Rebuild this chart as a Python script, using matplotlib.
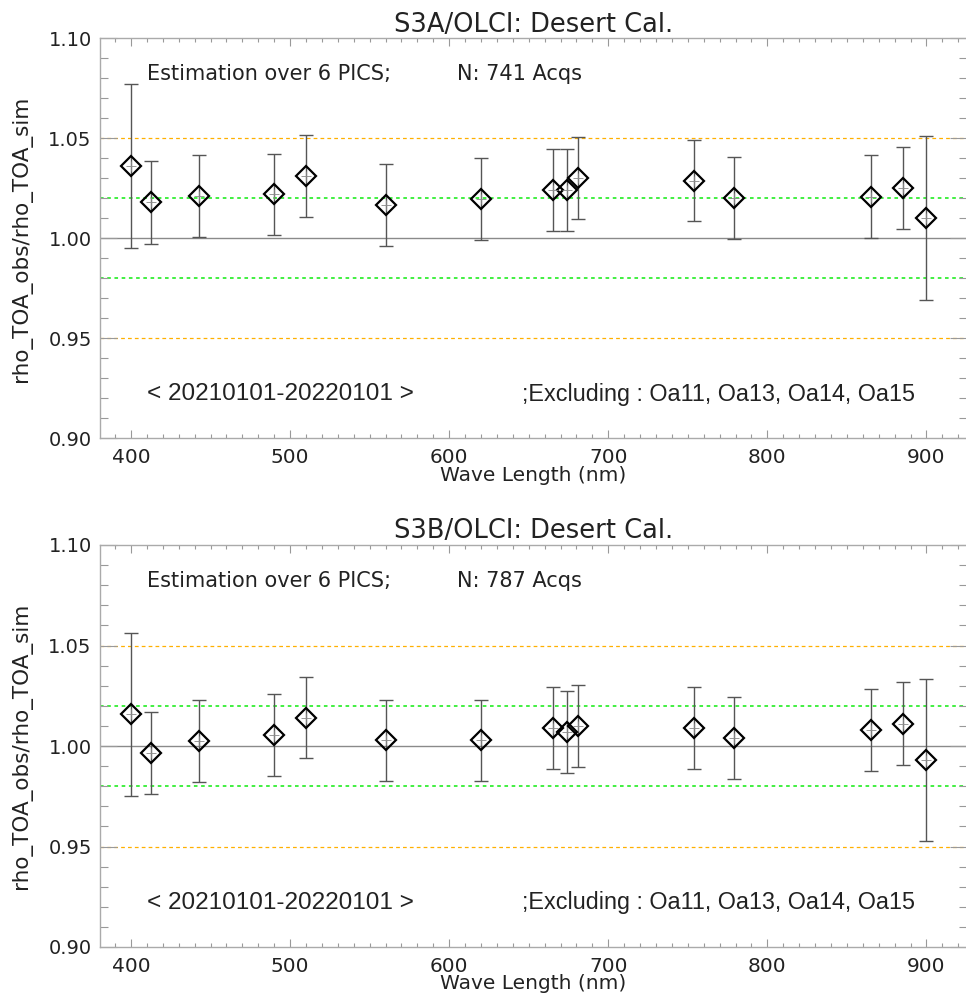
import matplotlib
matplotlib.use("Agg")
import matplotlib.pyplot as plt
from matplotlib.ticker import MultipleLocator, FixedLocator

# ---- data ----
wavelengths = [400.0, 412.5, 442.5, 490.0, 510.0, 560.0, 620.0, 665.0, 673.75,
               681.25, 753.75, 778.75, 865.0, 885.0, 900.0]

s3a_ratio = [1.0363, 1.0182, 1.0212, 1.0220, 1.0312, 1.0167, 1.0197, 1.0242,
             1.0242, 1.0302, 1.0288, 1.0203, 1.0210, 1.0253, 1.0102]
s3a_err = [0.0411, 0.0207, 0.0207, 0.0205, 0.0205, 0.0205, 0.0205, 0.0205,
           0.0205, 0.0204, 0.0203, 0.0204, 0.0206, 0.0205, 0.0410]

s3b_ratio = [1.0157, 0.9964, 1.0025, 1.0055, 1.0141, 1.0028, 1.0028, 1.0089,
             1.0070, 1.0099, 1.0089, 1.0040, 1.0081, 1.0111, 0.9932]
s3b_err = [0.0407, 0.0204, 0.0203, 0.0203, 0.0203, 0.0203, 0.0203, 0.0203,
           0.0205, 0.0203, 0.0203, 0.0204, 0.0204, 0.0205, 0.0403]

titles = ["S3A/OLCI: Desert Cal.", "S3B/OLCI: Desert Cal."]
n_acqs = [741, 787]
period_label = "< 20210101-20220101 >"
exclude_label = ";Excluding : Oa11, Oa13, Oa14, Oa15"
ref_lines_orange = [1.05, 0.95]
ref_lines_green = [1.02, 0.98]
ref_line_unity = 1.00
xticks = [400, 500, 600, 700, 800, 900]
yticks = [0.90, 0.95, 1.00, 1.05, 1.10]

W, H = 966, 999
fig = plt.figure(figsize=(W / 100, H / 100), dpi=100)

wide_font = ["DejaVu Sans"]
narrow_font = ["Liberation Sans", "DejaVu Sans"]

def px_rect(left, top, right, bottom):
    return [left / W, 1 - bottom / H, (right - left) / W, (bottom - top) / H]

rects = [px_rect(100, 38.5, 967, 438.5), px_rect(100, 545, 967, 947)]
datasets = [(s3a_ratio, s3a_err), (s3b_ratio, s3b_err)]

for i, ax_rect in enumerate(rects):
    ax = fig.add_axes(ax_rect)
    ratio, err = datasets[i]
    ax.set_xlim(380.5, 925.5)
    ax.set_ylim(0.90, 1.10)

    for y in ref_lines_orange:
        ax.axhline(y, color="#FFB000", ls=(0, (3, 2.5)), lw=0.9, zorder=1)
    for y in ref_lines_green:
        ax.axhline(y, color="#33EE33", ls=(0, (2, 2)), lw=1.3, zorder=1)
    ax.axhline(ref_line_unity, color="#8a8a8a", lw=1.0, zorder=1)

    ax.errorbar(wavelengths, ratio, yerr=err, fmt="none", ecolor="#555555",
                elinewidth=1.0, capsize=5, capthick=1.0, zorder=2)
    ax.plot(wavelengths, ratio, ls="none", marker="D", ms=10, mfc="none",
            mec="black", mew=1.6, zorder=3)
    ax.plot(wavelengths, ratio, ls="none", marker="+", ms=7, mec="#888888",
            mew=0.6, zorder=4)

    ax.xaxis.set_major_locator(FixedLocator(xticks))
    ax.xaxis.set_minor_locator(MultipleLocator(10))
    ax.yaxis.set_major_locator(FixedLocator(yticks))
    ax.yaxis.set_minor_locator(MultipleLocator(0.01))
    ax.set_yticklabels([f"{v:.2f}" for v in yticks], fontsize=14,
                       family=wide_font, color="#222222")
    ax.set_xticklabels([str(v) for v in xticks], fontsize=14.5,
                       family=wide_font, color="#222222")

    ax.tick_params(axis="x", which="major", direction="in", length=6, width=0.8,
                   color="#999999", top=True, bottom=True, pad=7)
    ax.tick_params(axis="x", which="minor", direction="in", length=3, width=0.8,
                   color="#999999", top=True, bottom=True)
    ax.tick_params(axis="y", which="major", direction="in", length=12, width=0.8,
                   color="#999999", left=True, right=True, pad=6)
    ax.tick_params(axis="y", which="minor", direction="in", length=6, width=0.8,
                   color="#999999", left=True, right=True)
    for s in ax.spines.values():
        s.set_color("#aaaaaa")
        s.set_linewidth(1.0)

    ax.set_title(titles[i], fontsize=18.5, family=wide_font, color="#222222", pad=5)
    ax.set_xlabel("Wave Length (nm)", fontsize=14.5, family=wide_font,
                  color="#222222", labelpad=-1)
    ax.set_ylabel("rho_TOA_obs/rho_TOA_sim", fontsize=15.5, family=wide_font,
                  color="#222222", labelpad=12)

    ax.text(0.054, 0.91, "Estimation over 6 PICS;", transform=ax.transAxes,
            fontsize=15, family=wide_font, color="#222222", va="center", ha="left")
    ax.text(0.412, 0.91, f"N: {n_acqs[i]} Acqs", transform=ax.transAxes,
            fontsize=15, family=wide_font, color="#222222", va="center", ha="left")
    ax.text(0.054, 0.11, period_label, transform=ax.transAxes,
            fontsize=17.5, family=narrow_font, color="#222222", va="center", ha="left")
    ax.text(0.487, 0.11, exclude_label, transform=ax.transAxes,
            fontsize=16.8, family=narrow_font, color="#222222", va="center", ha="left")

fig.savefig("out.png", dpi=100)
